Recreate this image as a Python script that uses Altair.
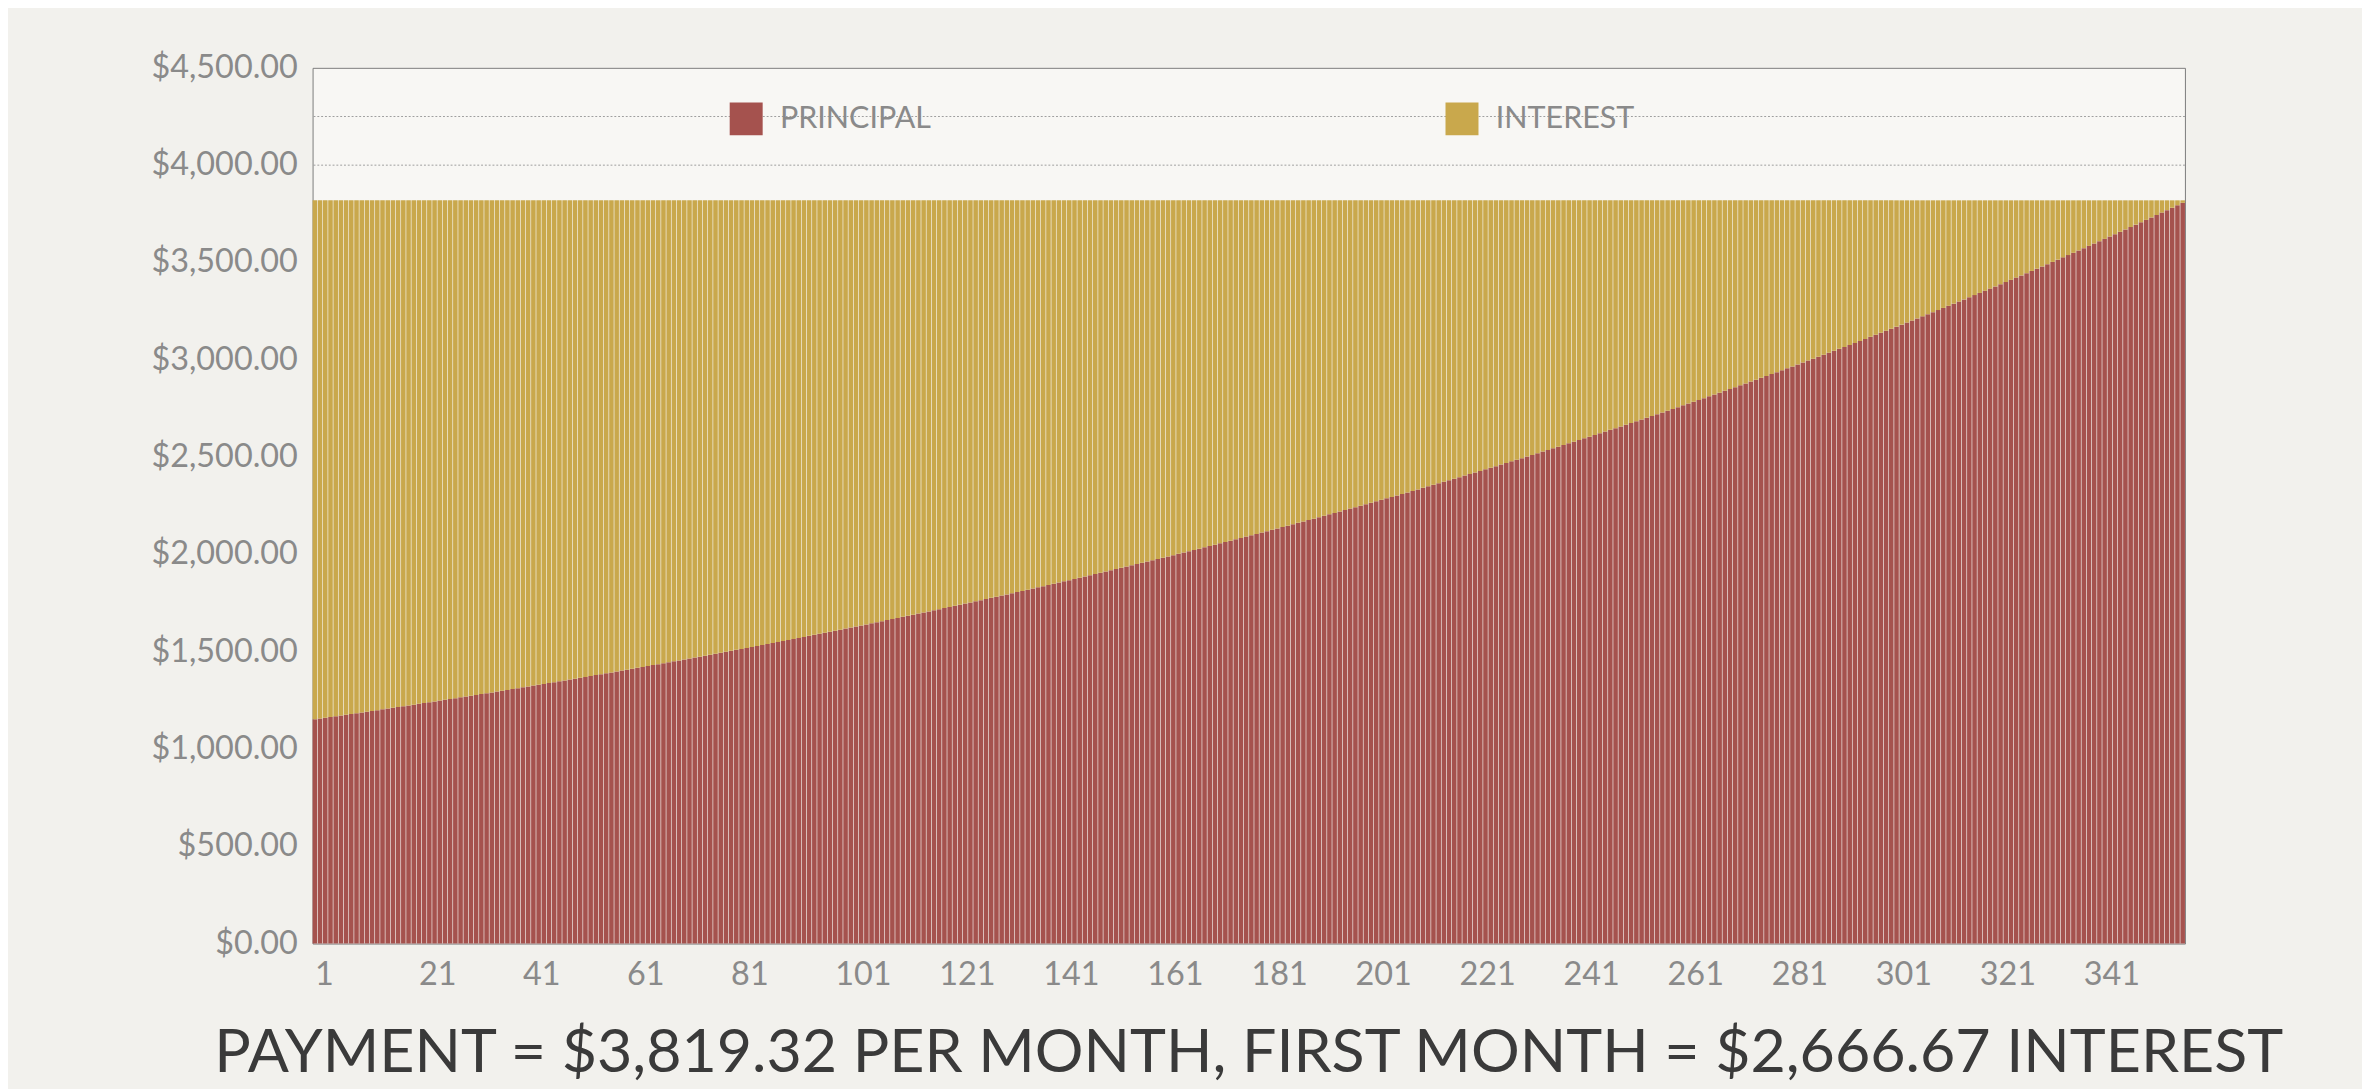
import altair as alt
import pandas as pd

# figures stated on the chart itself
payment = 3819.32
first_interest = 2666.67
months = 360
monthly_rate = 0.04 / 12
balance_start = 800000.0
guide_lines = [4000, 4250]

rows = []
balance = balance_start
for m in range(1, months + 1):
    interest = balance * monthly_rate
    principal = payment - interest
    balance -= principal
    rows.append({"month": m, "type": "PRINCIPAL", "amount": round(principal, 2), "order": 0})
    rows.append({"month": m, "type": "INTEREST", "amount": round(interest, 2), "order": 1})
df = pd.DataFrame(rows)

grey = "#8a8a8a"
font = "Lato"

bars = alt.Chart(df).mark_bar().encode(
    x=alt.X("month:O", title=None,
            scale=alt.Scale(paddingInner=0.12, paddingOuter=0),
            axis=alt.Axis(labelExpr="(datum.value - 1) % 20 == 0 ? datum.value : ''",
                          labelAngle=0, ticks=False, domain=False, labelAlign="left",
                          labelFontSize=34, labelColor=grey, labelFont=font, labelPadding=16)),
    y=alt.Y("amount:Q", stack="zero", title=None,
            scale=alt.Scale(domain=[0, 4500]),
            axis=alt.Axis(values=list(range(0, 4501, 500)), format="$,.2f", grid=False,
                          ticks=False, domain=False, labelFontSize=34, labelColor=grey,
                          labelFont=font, labelPadding=16)),
    color=alt.Color("type:N", sort=["PRINCIPAL", "INTEREST"],
                    scale=alt.Scale(domain=["PRINCIPAL", "INTEREST"], range=["#a5524e", "#c9a84c"]),
                    legend=alt.Legend(orient="none", legendX=438, legendY=36, direction="horizontal",
                                      title=None, symbolType="square", symbolSize=1200,
                                      symbolStrokeWidth=0, labelFontSize=32, labelColor=grey,
                                      labelFont=font, columnPadding=540, labelOffset=18)),
    order=alt.Order("order:Q"),
)

rules = alt.Chart(pd.DataFrame({"y": guide_lines})).mark_rule(
    color="#9a9a9a", strokeDash=[2, 2], strokeWidth=1
).encode(y="y:Q")

chart = alt.layer(rules, bars).properties(
    width=1967, height=920,
    background="#f2f1ed",
    padding={"left": 150, "top": 18, "right": 80, "bottom": 0},
    title=alt.TitleParams("PAYMENT = $3,819.32 PER MONTH, FIRST MONTH = $2,666.67 INTEREST",
                          orient="bottom", fontSize=64, font=font, fontWeight="normal",
                          color="#3a3a3a", offset=34),
).configure_view(fill="#f8f7f4", stroke="#777777", strokeWidth=1)

chart.save("out.html", embed_options={"renderer": "svg", "actions": False})
